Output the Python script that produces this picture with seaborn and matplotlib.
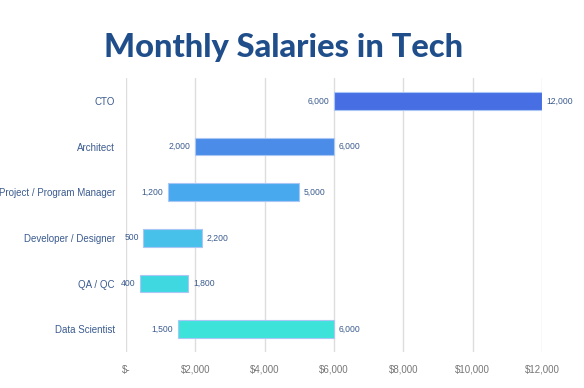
import pandas as pd
import matplotlib.pyplot as plt
import seaborn as sns

roles = ['CTO', 'Architect', 'Project / Program Manager', 'Developer / Designer', 'QA / QC', 'Data Scientist']
low = [6000, 2000, 1200, 500, 400, 1500]
high = [12000, 6000, 5000, 2200, 1800, 6000]
colors = ['#476fe3', '#4a8ce8', '#48a9ee', '#47c1ea', '#3fd8e0', '#3de3d8']
ticks = [0, 2000, 4000, 6000, 8000, 10000, 12000]
tick_labels = ['$-', '$2,000', '$4,000', '$6,000', '$8,000', '$10,000', '$12,000']

df = pd.DataFrame({'role': roles, 'low': low, 'high': high})
df['span'] = df['high'] - df['low']

sns.set_style('white')
plt.rcParams['font.family'] = ['Liberation Sans', 'DejaVu Sans']

fig = plt.figure(figsize=(5.84, 3.88), dpi=100)
ax = fig.add_axes([126 / 584, 1 - 352 / 388, (542 - 126) / 584, 274 / 388])

# floating bars: width = span, starting at the low salary
sns.barplot(data=df, x='span', y='role', orient='h', left=df['low'].values,
            color=colors[0], saturation=1, width=0.38, ax=ax, zorder=3)
for patch, c in zip(ax.patches, colors):
    patch.set_facecolor(c)
    patch.set_edgecolor('#a9c6f5')
    patch.set_linewidth(0.8)

label_color = '#3b5b8f'
for i, (lo, hi) in enumerate(zip(low, high)):
    ax.text(lo - 130, i, f'{lo:,}', ha='right', va='center', fontsize=6.2, color=label_color)
    ax.text(hi + 130, i, f'{hi:,}', ha='left', va='center', fontsize=6.2, color=label_color)

ax.set_xlim(0, 12000)
ax.set_ylim(5.5, -0.5)
ax.set_xticks(ticks)
ax.set_xticklabels(tick_labels, fontsize=7, color='#777777')
ax.tick_params(axis='x', length=0, pad=9)
ax.tick_params(axis='y', length=0, pad=8, labelsize=7, labelcolor=label_color)
ax.set_xlabel('')
ax.set_ylabel('')
ax.grid(axis='x', color='#dddddd', linewidth=1, zorder=0)
ax.set_axisbelow(True)
for s in ax.spines.values():
    s.set_visible(False)

fig.text(0.486, 0.878, 'Monthly Salaries in Tech', ha='center', va='center',
         fontsize=23.5, fontweight='black', color='#1f4e8a', family=['Lato', 'DejaVu Sans'])

fig.savefig('out.png', dpi=100)
